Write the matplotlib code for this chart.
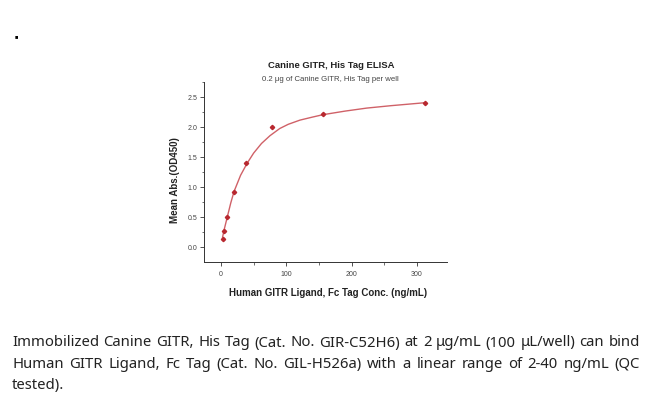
import matplotlib
matplotlib.use("Agg")
import matplotlib.pyplot as plt
from matplotlib.ticker import MultipleLocator

# measured points (ng/mL, OD450)
conc = [2.44, 4.88, 9.77, 19.53, 39.06, 78.13, 156.25, 312.5]
od450 = [0.145, 0.28, 0.50, 0.93, 1.405, 2.01, 2.22, 2.41]

# fitted curve
fit_x = [2.44, 5, 10, 15, 20, 30, 40, 50, 62, 75, 90, 103, 121, 140, 156, 190, 223, 260, 312.5]
fit_y = [0.17, 0.30, 0.52, 0.74, 0.93, 1.20, 1.40, 1.57, 1.73, 1.86, 1.98, 2.05, 2.12, 2.17, 2.21, 2.27, 2.32, 2.36, 2.41]

x_ticks = [0, 100, 200, 300]
y_ticks = [0.0, 0.5, 1.0, 1.5, 2.0, 2.5]

title = "Canine GITR, His Tag ELISA"
subtitle = "0.2 μg of Canine GITR, His Tag per well"
x_label = "Human GITR Ligand, Fc Tag Conc. (ng/mL)"
y_label = "Mean Abs.(OD450)"
caption = [
    "Immobilized Canine GITR, His Tag (Cat. No. GIR-C52H6) at 2 μg/mL (100 μL/well) can bind",
    "Human GITR Ligand, Fc Tag (Cat. No. GIL-H526a) with a linear range of 2-40 ng/mL (QC",
    "tested).",
]

W, H = 650, 399
RED = "#c43a42"
FONT = ["Liberation Sans", "DejaVu Sans"]
CAP_FONT = ["Noto Sans", "DejaVu Sans"]


def fx(px):
    return px / W


def fy(py):
    return 1 - py / H


def main():
    fig = plt.figure(figsize=(6.5, 3.99), dpi=100)
    ax = fig.add_axes([fx(204), fy(261.7), fx(446.7 - 204), (261.7 - 81.7) / H])

    ax.plot(fit_x, fit_y, color=RED, lw=1.0, alpha=0.8)
    ax.plot(conc, od450, ls="none", marker="D", ms=2.2, color="#b8282f")

    ax.set_xlim(-26, 345.6)
    ax.set_ylim(-0.24, 2.76)
    ax.set_xticks(x_ticks)
    ax.set_yticks(y_ticks)
    ax.set_yticklabels([f"{v:.1f}" for v in y_ticks])
    ax.xaxis.set_minor_locator(MultipleLocator(50))
    ax.yaxis.set_minor_locator(MultipleLocator(0.25))
    for s in ["top", "right"]:
        ax.spines[s].set_visible(False)
    for s in ["left", "bottom"]:
        ax.spines[s].set_linewidth(0.7)
        ax.spines[s].set_color("#333333")
    ax.tick_params(which="major", length=3, width=0.6, colors="#333333",
                   labelsize=5, pad=2)
    ax.tick_params(axis="x", which="major", pad=4)
    ax.tick_params(which="minor", length=1.8, width=0.5, colors="#333333")
    for lab in ax.get_xticklabels() + ax.get_yticklabels():
        lab.set_family(FONT)
        lab.set_color("#444444")

    fig.text(fx(331), fy(65.7), title, ha="center", va="center",
             fontsize=6.8, fontweight="bold", family=FONT, color="#222222")
    fig.text(fx(330), fy(79.3), subtitle, ha="center", va="center",
             fontsize=5.6, family=FONT, color="#444444")
    fig.text(fx(328), fy(292.7), x_label, ha="center", va="center",
             fontsize=7.0, fontweight="bold", family=FONT, color="#222222")
    fig.text(fx(175), fy(180), y_label, ha="center", va="center", rotation=90,
             fontsize=7.0, fontweight="bold", family=FONT, color="#222222")

    fig.text(fx(16), fy(37), "\u25a0", ha="center", va="center",
             fontsize=4, family=FONT, color="black")

    # justified caption, placed word by word; size chosen so line 1 fits
    renderer = fig.canvas.get_renderer()
    left, right = 12, 640
    baselines = [346.5, 368.0, 388.5]
    probe = [fig.text(0, 0, w, fontsize=10, family=CAP_FONT)
             for w in caption[0].split(" ")]
    natural = sum(t.get_window_extent(renderer).width for t in probe)
    for t in probe:
        t.remove()
    n_gaps = len(probe) - 1
    size = 10 * (right - left - 4.5 * n_gaps) / natural

    for i, line in enumerate(caption):
        words = line.split(" ")
        texts = [fig.text(0, fy(baselines[i]), w, ha="left", va="baseline",
                          fontsize=size, family=CAP_FONT, color="#222222")
                 for w in words]
        widths = [t.get_window_extent(renderer).width for t in texts]
        if i < len(caption) - 1 and len(words) > 1:
            gap = (right - left - sum(widths)) / (len(words) - 1)
        else:
            gap = 4.5
        x = left
        for t, w in zip(texts, widths):
            t.set_x(fx(x))
            x += w + gap

    fig.savefig("out.png", dpi=100, facecolor="white")


if __name__ == "__main__":
    main()
